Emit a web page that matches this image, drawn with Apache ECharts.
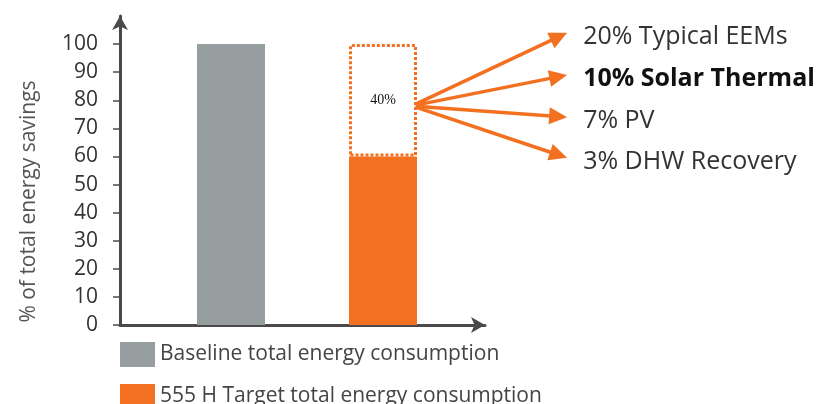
<!DOCTYPE html>
<html>
<head>
<meta charset="utf-8">
<script src="https://cdn.jsdelivr.net/npm/echarts@6/dist/echarts.min.js"></script>
<style>
  html, body { margin: 0; background: #fff; }
  #chart { width: 823px; height: 404px; }
</style>
</head>
<body>
<div id="chart"></div>
<script>
// bars
const seriesNames = ["Baseline total energy consumption", "555 H Target total energy consumption"];
const categories = ["Baseline", "555 H Target"];
const baselineValues = [100, "-"];
const targetValues = ["-", 60];
const savingsValues = ["-", 40];
const yTicks = [0, 10, 20, 30, 40, 50, 60, 70, 80, 90, 100];

// breakdown of the 40% savings
const savingsItems = ["20% Typical EEMs", "10% Solar Thermal", "7% PV", "3% DHW Recovery"];
const savingsBold = [false, true, false, false];
// where the arrows start / end, in axis units of the outer grid
const arrowFrom = [2.19, 78];
const arrowTipX = 3.21;
const arrowTipY = [104, 89, 74, 59.5];

const ORANGE = "#f37021";
const GREY = "#969e9f";
const AXIS = "#4a4a4a";

const chart = echarts.init(document.getElementById("chart"));

const option = {
  animation: false,
  grid: [
    { left: 120, right: 338, top: 16, bottom: 79 },   // axes with arrows
    { left: 155, right: 364, top: 16, bottom: 79 }    // bars
  ],
  legend: {
    orient: "vertical",
    left: 115,
    top: 337,
    height: 120,
    itemWidth: 35,
    itemHeight: 25,
    itemGap: 17,
    icon: "rect",
    data: seriesNames,
    selectedMode: false,
    textStyle: { fontFamily: "Open Sans", fontSize: 21, color: "#444" }
  },
  xAxis: [
    {
      type: "value",
      gridIndex: 0,
      min: 0.27,
      max: 2.67,
      splitLine: { show: false },
      axisTick: { show: false },
      axisLabel: { show: false },
      axisLine: {
        show: true,
        symbol: ["none", "arrow"],
        symbolSize: [12, 14],
        lineStyle: { color: AXIS, width: 3 }
      }
    },
    {
      type: "category",
      gridIndex: 1,
      data: categories,
      show: false
    }
  ],
  yAxis: [
    {
      type: "value",
      gridIndex: 0,
      min: 0,
      max: 110,
      interval: 10,
      name: "% of total energy savings",
      nameLocation: "middle",
      nameRotate: 90,
      nameGap: 80,
      nameTextStyle: { fontFamily: "Open Sans", fontSize: 21, color: "#555", padding: [0, 62, 0, 0] },
      splitLine: { show: false },
      axisLine: {
        show: true,
        symbol: ["none", "arrow"],
        symbolSize: [12, 14],
        lineStyle: { color: AXIS, width: 3 }
      },
      axisTick: {
        show: true,
        length: 7,
        customValues: yTicks,
        lineStyle: { color: AXIS, width: 1.5 }
      },
      axisLabel: {
        customValues: yTicks,
        margin: 22,
        fontFamily: "Open Sans",
        fontSize: 21,
        color: "#333"
      }
    },
    {
      type: "value",
      gridIndex: 1,
      min: 0,
      max: 110,
      show: false,
      splitLine: { show: false }
    }
  ],
  series: [
    {
      name: seriesNames[0],
      type: "bar",
      xAxisIndex: 1,
      yAxisIndex: 1,
      stack: "all",
      barWidth: 68,
      itemStyle: { color: GREY },
      data: baselineValues
    },
    {
      name: seriesNames[1],
      type: "bar",
      xAxisIndex: 1,
      yAxisIndex: 1,
      stack: "all",
      itemStyle: { color: ORANGE },
      data: targetValues
    },
    {
      name: "savings",
      type: "bar",
      xAxisIndex: 1,
      yAxisIndex: 1,
      stack: "all",
      itemStyle: { color: "#fff", borderColor: ORANGE, borderWidth: 3, borderType: [3, 2] },
      label: {
        show: true,
        position: "inside",
        color: "#111",
        fontFamily: "Liberation Serif",
        fontSize: 14,
        formatter: p => p.value + "%"
      },
      data: savingsValues
    }
  ]
};
chart.setOption(option);

// arrows from the 40% box to the breakdown texts
function drawArrows() {
  const o = chart.convertToPixel({ xAxisIndex: 0, yAxisIndex: 0 }, arrowFrom);
  const els = [];
  arrowTipY.forEach((ty, i) => {
    const t = chart.convertToPixel({ xAxisIndex: 0, yAxisIndex: 0 }, [arrowTipX, ty]);
    const dx = t[0] - o[0], dy = t[1] - o[1];
    const len = Math.sqrt(dx * dx + dy * dy);
    const ux = dx / len, uy = dy / len;
    const headL = 18, headW = 17;
    const bx = t[0] - ux * headL, by = t[1] - uy * headL;
    els.push({
      type: "line",
      shape: { x1: o[0], y1: o[1], x2: bx + ux * 2, y2: by + uy * 2 },
      style: { stroke: ORANGE, lineWidth: 3.5 }
    });
    els.push({
      type: "polygon",
      shape: { points: [[t[0], t[1]], [bx - uy * headW / 2, by + ux * headW / 2], [bx + uy * headW / 2, by - ux * headW / 2]] },
      style: { fill: ORANGE }
    });
    els.push({
      type: "text",
      x: t[0] + 16,
      y: t[1] + 4,
      style: {
        text: savingsItems[i],
        fontFamily: "Open Sans",
        fontSize: 25,
        fontWeight: savingsBold[i] ? "bold" : "normal",
        fill: savingsBold[i] ? "#111" : "#333",
        align: "left",
        verticalAlign: "middle"
      }
    });
  });
  chart.setOption({ graphic: { elements: els } });
}
drawArrows();
</script>
</body>
</html>
